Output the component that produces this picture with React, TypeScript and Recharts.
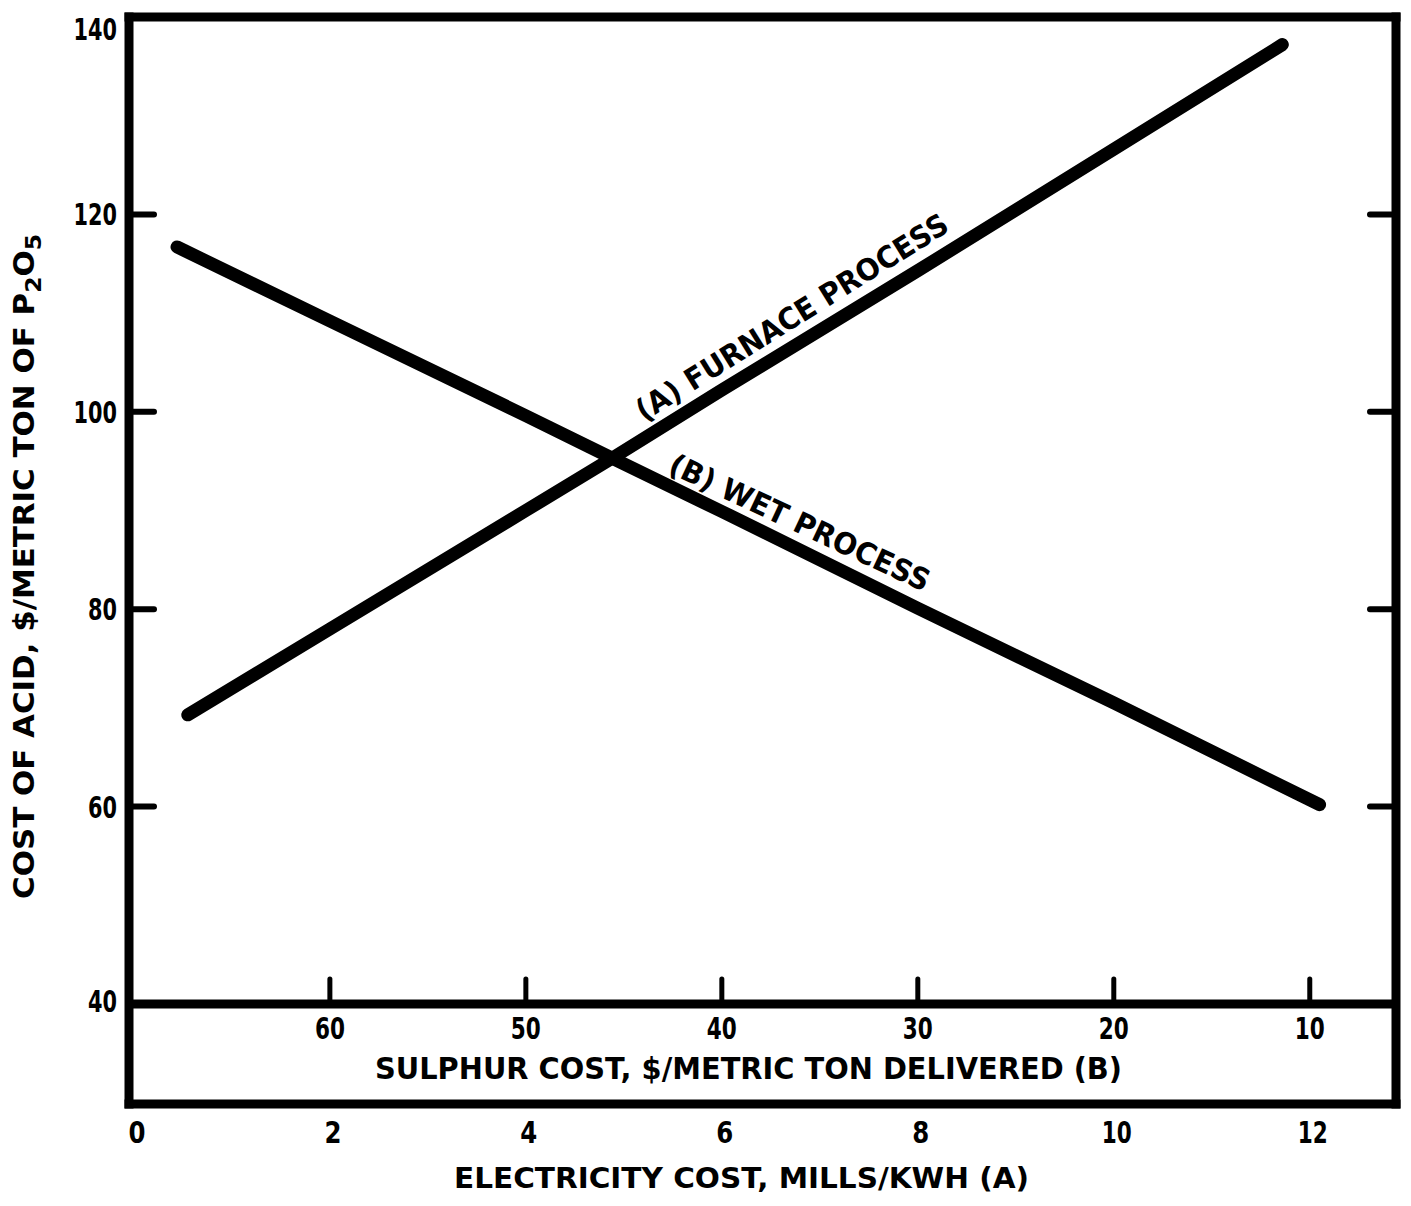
import React from 'react';
import { LineChart, Line, XAxis, YAxis, ReferenceLine, ReferenceDot, LabelList, Label } from 'recharts';

// ---- data ----
const electricityTicks = [0, 2, 4, 6, 8, 10, 12];
const topTicks = [2, 4, 6, 8, 10, 12];
const sulphurTicks = [60, 50, 40, 30, 20, 10];
const costTicks = [40, 60, 80, 100, 120, 140];
const rightTicks = [60, 80, 100, 120];

// (A) Furnace process: cost vs electricity cost (mills/kWh)
const furnaceElectricity = [0.55, 2, 4, 4.88, 6, 8, 10, 11.72];
const furnaceCost = [69.3, 78.0, 90.0, 95.3, 102.2, 114.3, 126.6, 137.2];

// (B) Wet process: cost vs sulphur cost ($/metric ton delivered)
const wetSulphur = [67.8, 60, 50, 45.6, 40, 30, 20, 9.5];
const wetCost = [116.7, 109.2, 99.6, 95.3, 89.9, 80.1, 70.5, 60.2];

const yTitle = 'COST OF ACID, $/METRIC TON OF P';
const xTitleElectricity = 'ELECTRICITY COST, MILLS/KWH (A)';
const xTitleSulphur = 'SULPHUR COST, $/METRIC TON DELIVERED (B)';
const furnaceLabel = '(A) FURNACE PROCESS';
const wetLabel = '(B) WET PROCESS';

const furnaceData = furnaceElectricity.map((e, i) => ({ e, cost: furnaceCost[i] }));
const wetData = wetSulphur.map((s, i) => ({ s, cost: wetCost[i] }));

// ---- axis geometry ----
const ELEC_DOMAIN: [number, number] = [-0.05, 12.88];
const SULPHUR_DOMAIN: [number, number] = [5.6, 70.25]; // s = 70 - 5 * e
const COST_DOMAIN: [number, number] = [29.87, 140];

const FONT = "'DejaVu Sans', 'Liberation Sans', Arial, sans-serif";
const INK = '#000';

function T(props: any) {
  const { x, y, len, size = 30, anchor = 'middle', rotate, children } = props;
  return (
    <text
      x={x}
      y={y}
      fontFamily={FONT}
      fontWeight={700}
      fontSize={size}
      fill={INK}
      textAnchor={anchor}
      dominantBaseline="central"
      textLength={len}
      lengthAdjust="spacingAndGlyphs"
      transform={rotate ? `rotate(${rotate} ${x} ${y})` : undefined}
    >
      {children}
    </text>
  );
}

const digitWidth = 14.5;

function LeftTick(props: any) {
  const { x, y, payload } = props;
  const v = payload.value;
  const s = String(v);
  const dy = v === 140 ? 12 : v === 40 ? -3 : 0;
  return (
    <g>
      {v > 40 && v < 140 && (
        <line x1={x} x2={x + 25} y1={y} y2={y} stroke={INK} strokeWidth={6} strokeLinecap="round" />
      )}
      <T x={x - 12} y={y + dy} anchor="end" size={31} len={s.length * digitWidth}>
        {s}
      </T>
    </g>
  );
}

function RightTick(props: any) {
  const { x, y } = props;
  return <line x1={x} x2={x - 26} y1={y} y2={y} stroke={INK} strokeWidth={6} strokeLinecap="round" />;
}

function TopTick(props: any) {
  const { x, y } = props;
  return <line x1={x - 6} x2={x - 6} y1={y} y2={y + 24} stroke={INK} strokeWidth={5} strokeLinecap="round" />;
}

function ElecTick(props: any) {
  const { x, y, payload } = props;
  const s = String(payload.value);
  return (
    <T x={x + 3} y={y + 28} size={30} len={s.length === 1 ? 17 : 30}>
      {s}
    </T>
  );
}

function sulphurMark(s: number) {
  return (p: any) => (
    <g>
      <line x1={p.cx} x2={p.cx} y1={p.cy} y2={p.cy - 25} stroke={INK} strokeWidth={5} strokeLinecap="round" />
      <T x={p.cx} y={p.cy + 24} size={30} len={30}>
        {String(s)}
      </T>
    </g>
  );
}

function SulphurTitle(props: any) {
  const vb = props.viewBox || {};
  const cx = vb.x + vb.width / 2 - 14;
  return (
    <T x={cx} y={vb.y + 64} size={31} len={747}>
      {xTitleSulphur}
    </T>
  );
}

function ElecTitle(props: any) {
  const vb = props.viewBox || {};
  const cx = vb.x + vb.width / 2 - 21;
  return (
    <T x={cx} y={vb.y + 74} size={29} len={575}>
      {xTitleElectricity}
    </T>
  );
}

function YTitle(props: any) {
  const vb = props.viewBox || {};
  const cx = 16;
  const cy = vb.y + vb.height / 2 + 6;
  return (
    <text
      x={cx}
      y={cy}
      fontFamily={FONT}
      fontWeight={700}
      fontSize={29}
      fill={INK}
      textAnchor="middle"
      dominantBaseline="central"
      textLength={665}
      lengthAdjust="spacingAndGlyphs"
      transform={`rotate(-90 ${cx} ${cy})`}
    >
      {yTitle}
      <tspan dy={9} fontSize={22}>2</tspan>
      <tspan dy={-9}>O</tspan>
      <tspan dy={9} fontSize={22}>5</tspan>
    </text>
  );
}

function FurnaceText(props: any) {
  const { x, y, index } = props;
  if (index !== 4) return null;
  return (
    <T x={x + 70} y={y - 73} size={30} len={362} rotate={-32}>
      {furnaceLabel}
    </T>
  );
}

function WetText(props: any) {
  const { x, y, index } = props;
  if (index !== 4) return null;
  return (
    <T x={x + 78} y={y + 11} size={30} len={284} rotate={25}>
      {wetLabel}
    </T>
  );
}

const frame = { stroke: INK, strokeWidth: 9, strokeLinecap: 'square' as const };

export default function App() {
  return (
    <div style={{ background: '#fff' }}>
      <LineChart width={1395} height={1190} margin={{ top: 8, right: 0, bottom: 0, left: 0 }}>
        <XAxis
          xAxisId="e"
          type="number"
          dataKey="e"
          domain={ELEC_DOMAIN}
          allowDataOverflow
          ticks={electricityTicks}
          interval={0}
          orientation="bottom"
          height={94}
          axisLine={frame}
          tickLine={false}
          tickSize={0}
          tickMargin={0}
          tick={<ElecTick />}
        >
          <Label content={<ElecTitle />} />
        </XAxis>
        <XAxis
          xAxisId="top"
          type="number"
          domain={ELEC_DOMAIN}
          allowDataOverflow
          ticks={topTicks}
          interval={0}
          orientation="top"
          height={1}
          axisLine={frame}
          tickLine={false}
          tickSize={0}
          tickMargin={0}
          tick={<TopTick />}
        />
        <XAxis
          xAxisId="s"
          type="number"
          dataKey="s"
          domain={SULPHUR_DOMAIN}
          allowDataOverflow
          reversed
          hide
        />
        <YAxis
          yAxisId="l"
          type="number"
          domain={COST_DOMAIN}
          allowDataOverflow
          ticks={costTicks}
          interval={0}
          width={121}
          axisLine={frame}
          tickLine={false}
          tickSize={0}
          tickMargin={0}
          tick={<LeftTick />}
        >
          <Label content={<YTitle />} />
        </YAxis>
        <YAxis
          yAxisId="r"
          orientation="right"
          type="number"
          domain={COST_DOMAIN}
          allowDataOverflow
          ticks={rightTicks}
          interval={0}
          width={7}
          axisLine={frame}
          tickLine={false}
          tickSize={0}
          tickMargin={0}
          tick={<RightTick />}
        />
        <ReferenceLine
          xAxisId="e"
          yAxisId="l"
          y={40}
          stroke={INK}
          strokeWidth={9}
          label={(p: any) => <SulphurTitle {...p} />}
        />
        {sulphurTicks.map((s) => (
          <ReferenceDot
            key={s}
            xAxisId="s"
            yAxisId="l"
            x={s}
            y={40}
            r={1}
            shape={sulphurMark(s)}
          />
        ))}
        <Line
          xAxisId="e"
          yAxisId="l"
          data={furnaceData}
          dataKey="cost"
          type="linear"
          stroke={INK}
          strokeWidth={13}
          strokeLinecap="round"
          strokeLinejoin="round"
          dot={false}
          activeDot={false}
          isAnimationActive={false}
        >
          <LabelList dataKey="cost" content={<FurnaceText />} />
        </Line>
        <Line
          xAxisId="s"
          yAxisId="l"
          data={wetData}
          dataKey="cost"
          type="linear"
          stroke={INK}
          strokeWidth={13}
          strokeLinecap="round"
          strokeLinejoin="round"
          dot={false}
          activeDot={false}
          isAnimationActive={false}
        >
          <LabelList dataKey="cost" content={<WetText />} />
        </Line>
      </LineChart>
    </div>
  );
}
